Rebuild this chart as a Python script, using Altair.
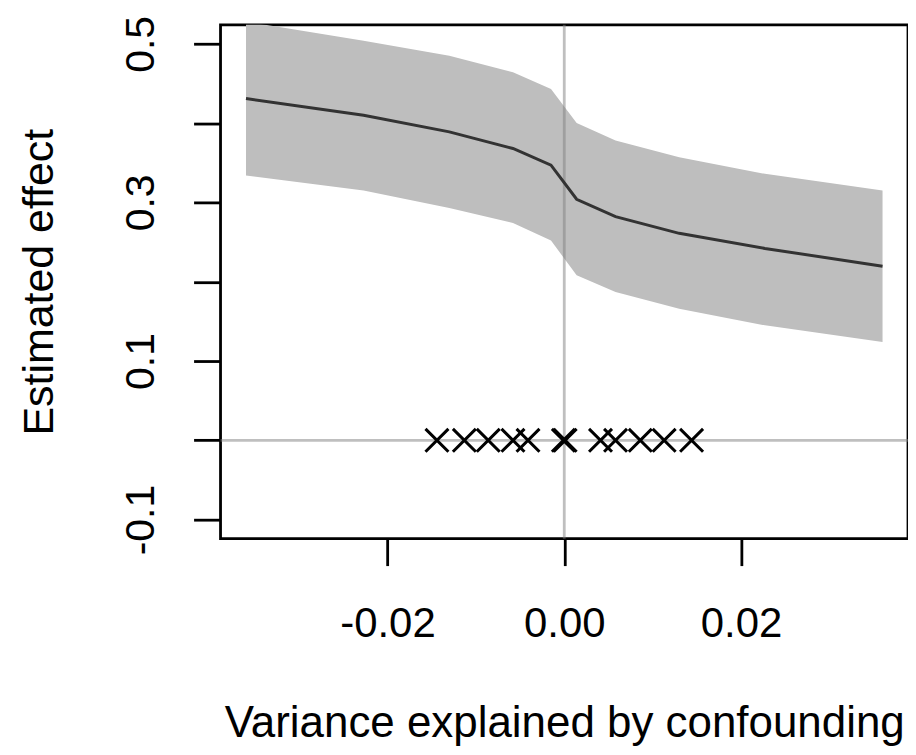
import altair as alt
import pandas as pd

# Sensitivity curve (confounding r^2 -> estimated effect with band)
r2 = [-0.036, -0.0227, -0.013, -0.0058, -0.0015, 0.0014, 0.0058, 0.013, 0.0227, 0.036]
estimate = [0.431, 0.410, 0.389, 0.368, 0.347, 0.304, 0.282, 0.261, 0.242, 0.2195]
lower = [0.334, 0.315, 0.293, 0.274, 0.252, 0.208, 0.187, 0.166, 0.145, 0.124]
upper = [0.528, 0.504, 0.485, 0.464, 0.443, 0.400, 0.378, 0.357, 0.336, 0.315]

# Partial r^2 of covariates (mirrored), drawn as x marks at effect 0
covariate_r2 = [-0.0144, -0.0113, -0.0086, -0.0058, -0.0041, -0.0001,
                0.0001, 0.0041, 0.0058, 0.0086, 0.0113, 0.0144]

x_ticks = [-0.02, 0.0, 0.02]
y_ticks = [-0.1, 0.0, 0.1, 0.2, 0.3, 0.4, 0.5]
y_labeled = ["-0.1", "0.1", "0.3", "0.5"]

W, H = 689, 515
FONT = "Liberation Sans"
MINUS = "\u2212"

xs = alt.Scale(domain=[-0.03888, 0.03888], nice=False, zero=False)
ys = alt.Scale(domain=[-0.124, 0.524], nice=False, zero=False)

x_axis = alt.Axis(
    values=x_ticks, format=".2f",
    labelExpr=f"replace(datum.label, '{MINUS}', '-')",
    title="Variance explained by confounding",
    domain=False, grid=False, ticks=True, tickSize=27, tickWidth=2.8, tickColor="black",
    labelFontSize=42, labelFont=FONT, labelColor="black", labelPadding=38,
    labelBaseline="top", labelAlign="center", labelFlush=False, labelOverlap=False,
    titleFontSize=44, titleFont=FONT, titleFontWeight="normal", titleColor="black",
    titleX=W / 2, titleY=198, titleBaseline="alphabetic", titleAlign="center",
)

lab_list = "[" + ",".join(f"'{v}'" for v in y_labeled) + "]"
y_axis = alt.Axis(
    values=y_ticks, format=".1f",
    labelExpr=(f"indexof({lab_list}, replace(datum.label, '{MINUS}', '-')) >= 0 ? "
               f"replace(datum.label, '{MINUS}', '-') : ''"),
    title="Estimated effect",
    domain=False, grid=False, ticks=True, tickSize=27, tickWidth=2.8, tickColor="black",
    labelFontSize=41, labelFont=FONT, labelColor="black", labelPadding=40,
    labelAngle=270, labelAlign="center", labelBaseline="alphabetic",
    labelFlush=False, labelOverlap=False,
    titleFontSize=43, titleFont=FONT, titleFontWeight="normal", titleColor="black",
    titleAngle=270, titleX=-168, titleY=H / 2, titleBaseline="alphabetic", titleAlign="center",
)

df = pd.DataFrame({"r2": r2, "est": estimate, "lo": lower, "hi": upper})
marks_df = pd.DataFrame({"r2": covariate_r2, "zero": [0.0] * len(covariate_r2)})
zero_df = pd.DataFrame({"v": [0.0]})

band = alt.Chart(df).mark_area(color="#BEBEBE", clip=True, opacity=1).encode(
    x=alt.X("r2:Q", scale=xs, axis=x_axis),
    y=alt.Y("lo:Q", scale=ys, axis=y_axis),
    y2="hi:Q",
)

vrule = alt.Chart(zero_df).mark_rule(color="#808080", opacity=0.5, strokeWidth=2.8).encode(
    x=alt.X("v:Q", scale=xs, axis=x_axis),
)
hrule = alt.Chart(zero_df).mark_rule(color="#808080", opacity=0.5, strokeWidth=2.8).encode(
    y=alt.Y("v:Q", scale=ys, axis=y_axis),
)

line = alt.Chart(df).mark_line(color="#333333", strokeWidth=3, clip=True).encode(
    x=alt.X("r2:Q", scale=xs, axis=x_axis),
    y=alt.Y("est:Q", scale=ys, axis=y_axis),
)

points = alt.Chart(marks_df).mark_point(
    shape="M-1,-1L1,1M-1,1L1,-1", size=529, filled=False,
    strokeWidth=3, color="black", opacity=1,
).encode(
    x=alt.X("r2:Q", scale=xs, axis=x_axis),
    y=alt.Y("zero:Q", scale=ys, axis=y_axis),
)

chart = alt.layer(band, vrule, hrule, line, points).properties(
    width=W, height=H,
    autosize=alt.AutoSizeParams(type="none"),
    padding={"left": 213, "top": 16, "right": 0, "bottom": 208},
).configure(
    background="white",
    view=alt.ViewConfig(stroke="black", strokeWidth=2.8),
)

chart.save("out.html", embed_options={"renderer": "svg", "actions": False})
